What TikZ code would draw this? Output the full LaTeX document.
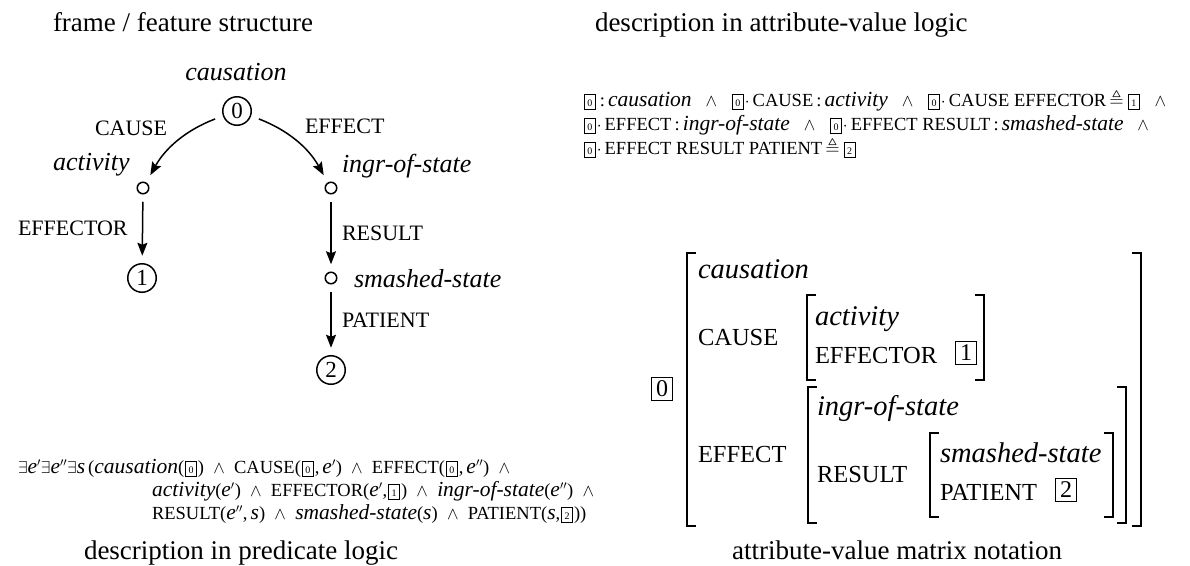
\documentclass[tikz,border=0pt]{standalone}
\usepackage{amssymb}
\usepackage{fontspec}
\setmainfont{Liberation Serif}
\usetikzlibrary{arrows.meta}
\newcommand\fsz[1]{\fontsize{#1}{#1}\selectfont}
\def\isz{21.5}
\newcommand\itx[1]{{\fsz{\isz}\itshape #1}}
\newcommand\sbx[1]{\kern1pt{\fboxsep=1.6pt\fboxrule=0.8pt\fbox{\makebox[7pt]{\rule[-1pt]{0pt}{10.5pt}\fsz{10}\upshape #1}}}\kern1pt}
\newcommand\AND{\hspace{0.75em}$\wedge$\hspace{0.75em}}
\newcommand\PAND{\hspace{0.5em}$\wedge$\hspace{0.5em}}
\begin{document}
\begin{tikzpicture}[x=1pt,y=-1pt,
  every node/.style={inner sep=0pt, outer sep=0pt},
  captext/.style={font=\fsz{27}, anchor=base west},
  lab/.style={font=\fsz{22}, anchor=base west},
  ital/.style={font=\fsz{26}\itshape, anchor=base west},
  bigc/.style={circle, draw, line width=1.5pt, minimum size=28.5pt, font=\fsz{23}},
  smallc/.style={circle, draw, line width=1.5pt, minimum size=11.5pt},
  arr/.style={-{Stealth[length=13pt,width=10pt,inset=2pt]}, line width=1.5pt, shorten <=8pt, shorten >=8pt},
  carr/.style={arr, shorten <=9pt, shorten >=9pt},
  formula/.style={font=\fsz{18.5}, anchor=base west},
  avr/.style={font=\fsz{24.5}, anchor=base west},
  avi/.style={font=\fsz{28.5}\itshape, anchor=base west},
  avbox/.style={draw, line width=1.1pt, minimum width=21pt, minimum height=23pt, font=\fsz{24}},
  brk/.style={line width=1.5pt, line cap=butt, line join=miter}
]
\useasboundingbox (0,0) rectangle (1190,565);

% captions
\node[captext] (c1) at (53,31) {frame / feature structure};
\node[captext] (c2) at (595,31) {description in attribute-value logic};
\node[captext] (c3) at (84,559) {description in predicate logic};
\node[captext, anchor=base east] (c4) at (1062,559) {attribute-value matrix notation};

% feature structure graph
\node[bigc] (n0) at (237,111) {0};
\node[smallc] (na) at (143,188) {};
\node[smallc] (ni) at (331,188) {};
\node[bigc] (n1) at (142,278) {1};
\node[smallc] (ns) at (331,278) {};
\node[bigc] (n2) at (331,370) {2};

\node[ital, anchor=base] (tcaus) at (236,80) {causation};
\node[lab] (tcause) at (95,135) {CAUSE};
\node[lab] (teffect) at (305,133) {EFFECT};
\node[ital] (tact) at (53,170) {activity};
\node[ital] (tingr) at (342,172) {ingr-of-state};
\node[lab] (teffector) at (18,235) {EFFECTOR};
\node[lab] (tresult) at (342,240) {RESULT};
\node[ital] (tsmash) at (354,287) {smashed-state};
\node[lab] (tpatient) at (342,327) {PATIENT};

\draw[carr] (n0) to[bend right=20] (na);
\draw[carr] (n0) to[bend left=20] (ni);
\draw[arr] (na) -- (n1);
\draw[arr] (ni) -- (ns);
\draw[arr] (ns) -- (n2);

% attribute-value logic
\node[formula] (av1) at (583,106) {\sbx{0}\,:\,\itx{causation}\AND\sbx{0}$\cdot$\,CAUSE\,:\,\itx{activity}\AND\sbx{0}$\cdot$\,CAUSE EFFECTOR\,$\triangleq$\,\sbx{1}\AND};
\node[formula] (av2) at (583,130) {\sbx{0}$\cdot$\,EFFECT\,:\,\itx{ingr-of-state}\AND\sbx{0}$\cdot$\,EFFECT RESULT\,:\,\itx{smashed-state}\AND};
\node[formula] (av3) at (583,154) {\sbx{0}$\cdot$\,EFFECT RESULT PATIENT\,$\triangleq$\,\sbx{2}};

% predicate logic
\node[formula] (pl1) at (18,473) {$\exists$\itx{e}$'$$\exists$\itx{e}$''$$\exists$\itx{s}\,(\itx{causation}(\sbx{0})\PAND CAUSE(\sbx{0},\,\itx{e}$'$)\PAND EFFECT(\sbx{0},\,\itx{e}$''$)\PAND};
\node[formula] (pl2) at (152,496) {\itx{activity}(\itx{e}$'$)\PAND EFFECTOR(\itx{e}$'$,\sbx{1})\PAND\itx{ingr-of-state}(\itx{e}$''$)\PAND};
\node[formula] (pl3) at (152,519) {RESULT(\itx{e}$''$,\,\itx{s})\PAND\itx{smashed-state}(\itx{s})\PAND PATIENT(\itx{s},\sbx{2}))};

% attribute-value matrix
\node[avbox] (b0) at (662,389) {0};
\draw[brk] (696,253) -- (687,253) -- (687,526) -- (696,526);
\draw[brk] (1132,253) -- (1141,253) -- (1141,526) -- (1132,526);
\node[avi] (mcaus) at (698,278) {causation};
\node[avr] (mcause) at (698,345) {CAUSE};
\draw[brk] (816,295) -- (807,295) -- (807,380) -- (816,380);
\draw[brk] (975,295) -- (984,295) -- (984,380) -- (975,380);
\node[avi] (mact) at (815,325) {activity};
\node[avr] (meffector) at (815,363) {EFFECTOR};
\node[avbox] (b1) at (966,353) {1};
\node[avr] (meffect) at (698,462) {EFFECT};
\draw[brk] (817,387) -- (808,387) -- (808,523) -- (817,523);
\draw[brk] (1117,387) -- (1126,387) -- (1126,523) -- (1117,523);
\node[avi] (mingr) at (817,415) {ingr-of-state};
\node[avr] (mresult) at (817,482) {RESULT};
\draw[brk] (939,433) -- (930,433) -- (930,517) -- (939,517);
\draw[brk] (1104,433) -- (1113,433) -- (1113,517) -- (1104,517);
\node[avi] (msmash) at (940,462) {smashed-state};
\node[avr] (mpatient) at (940,500) {PATIENT};
\node[avbox] (b2) at (1066,490) {2};
\end{tikzpicture}
\end{document}
